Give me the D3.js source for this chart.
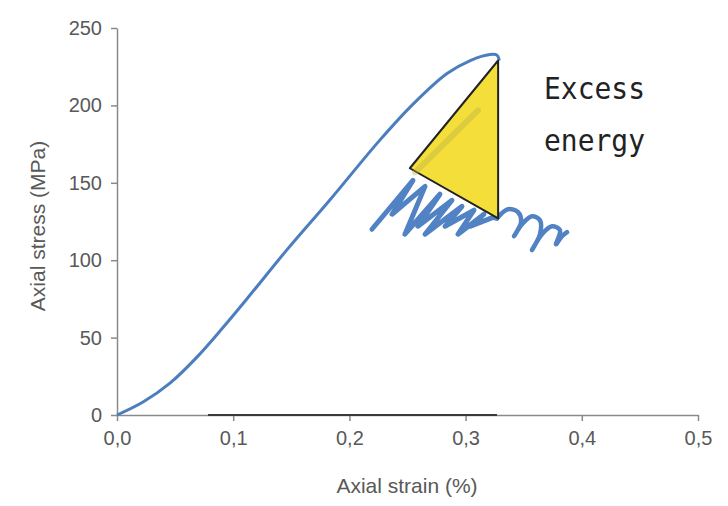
<!DOCTYPE html>
<html>
<head>
<meta charset="utf-8">
<script src="https://cdn.jsdelivr.net/npm/d3@7"></script>
<style>
  body { margin: 0; background: #fff; }
  text { font-family: "Liberation Sans", Arial, sans-serif; }
</style>
</head>
<body>
<div id="chart"></div>
<script>
// stress-strain curve (strain %, stress MPa)
var curveStrain = [0, 0.0224, 0.0456, 0.0688, 0.0912, 0.1145, 0.146, 0.183, 0.226, 0.255, 0.284, 0.304, 0.321, 0.327, 0.329];
var curveStress = [0, 8.4, 20.6, 37.4, 56.5, 77.5, 106.5, 138.7, 177.4, 201, 220.6, 229, 232.9, 232.5, 229];

// yellow "excess energy" triangle
var triStrain = [0.328, 0.252, 0.328];
var triStress = [229, 159.4, 127];

// hand drawn scribble under the triangle
var scribStrain = [0.2194, 0.2547, 0.2367, 0.2651, 0.2478, 0.2779, 0.2590, 0.2883, 0.2651, 0.2969, 0.2823, 0.3072, 0.2935, 0.3158, 0.3038, 0.3236, 0.3270];
var scribStress = [120.0, 151.6, 129.7, 147.7, 116.8, 142.6, 121.9, 138.7, 116.8, 134.8, 121.9, 132.3, 116.8, 129.7, 121.9, 127.7, 127.1];
var loopStrain = [0.3270, 0.3365, 0.3451, 0.3477, 0.3417, 0.3485, 0.3571, 0.3640, 0.3640, 0.3571, 0.3657, 0.3744, 0.3812, 0.3778, 0.3830, 0.3873];
var loopStress = [127.1, 132.9, 131.0, 124.5, 115.5, 123.2, 128.4, 125.8, 116.8, 106.5, 116.8, 121.9, 119.4, 110.3, 115.5, 118.1];
var streakStrain = [0.2565, 0.3107];
var streakStress = [156.8, 196.8];
var baseStrain = [0.0783, 0.327];

var xTicks = [0, 0.1, 0.2, 0.3, 0.4, 0.5];
var yTicks = [0, 50, 100, 150, 200, 250];

var width = 728, height = 506;
var svg = d3.select("#chart").append("svg")
    .attr("width", width)
    .attr("height", height);

var x = d3.scaleLinear().domain([0, 0.5]).range([117, 698]);
var y = d3.scaleLinear().domain([0, 250]).range([415, 28]);

function pts(xs, ys){
    return xs.map(function(v, i){ return [v, ys[i]]; });
}
var line = d3.line()
    .x(function(d){ return x(d[0]); })
    .y(function(d){ return y(d[1]); });

// axes
var xAxis = svg.append("g")
    .attr("transform", "translate(0," + y(0) + ")")
    .call(d3.axisBottom(x).tickValues(xTicks).tickSize(6).tickSizeOuter(0)
        .tickFormat(function(d){ return d3.format(".1f")(d).replace(".", ","); }));
var yAxis = svg.append("g")
    .attr("transform", "translate(" + x(0) + ",0)")
    .call(d3.axisLeft(y).tickValues(yTicks).tickSize(6).tickSizeOuter(0));

[xAxis, yAxis].forEach(function(a){
    a.select(".domain").attr("stroke", "#8a8a8a").attr("stroke-width", 1.5);
    a.selectAll(".tick line").attr("stroke", "#8a8a8a").attr("stroke-width", 1.5);
    a.selectAll(".tick text")
        .attr("fill", "#595959")
        .style("font-size", "20px")
        .style("font-family", "'Liberation Sans', Arial, sans-serif");
});
xAxis.selectAll(".tick text").attr("dy", "1.05em").attr("y", 9);
yAxis.selectAll(".tick text").attr("x", -15);

// darker part of the x axis
svg.append("path")
    .attr("d", line(pts(baseStrain, [0, 0])))
    .attr("stroke", "#3a3a3a")
    .attr("stroke-width", 2.2)
    .attr("fill", "none");

// axis titles
svg.append("text")
    .attr("x", 407).attr("y", 493)
    .attr("text-anchor", "middle")
    .attr("fill", "#595959")
    .style("font-size", "21px")
    .text("Axial strain (%)");
svg.append("text")
    .attr("transform", "translate(45,226) rotate(-90)")
    .attr("text-anchor", "middle")
    .attr("fill", "#595959")
    .style("font-size", "21px")
    .text("Axial stress (MPa)");

// scribble
svg.append("path")
    .attr("d", line(pts(scribStrain, scribStress)))
    .attr("stroke", "#5082c4")
    .attr("stroke-width", 5)
    .attr("stroke-linecap", "round")
    .attr("stroke-linejoin", "round")
    .attr("fill", "none");
svg.append("path")
    .attr("d", line.curve(d3.curveCatmullRom)(pts(loopStrain, loopStress)))
    .attr("stroke", "#5082c4")
    .attr("stroke-width", 4.5)
    .attr("stroke-linecap", "round")
    .attr("fill", "none");
line.curve(d3.curveLinear);

// main curve
svg.append("path")
    .attr("d", line.curve(d3.curveCatmullRom.alpha(0.5))(pts(curveStrain, curveStress)))
    .attr("stroke", "#4a7ebf")
    .attr("stroke-width", 3)
    .attr("fill", "none");
line.curve(d3.curveLinear);

// triangle
svg.append("path")
    .attr("d", line(pts(triStrain, triStress)) + "Z")
    .attr("fill", "#f4df3a")
    .attr("stroke", "#222")
    .attr("stroke-width", 2)
    .attr("stroke-linejoin", "round");

// faint streak showing through the yellow
svg.append("path")
    .attr("d", line(pts(streakStrain, streakStress)))
    .attr("stroke", "#b8ae45")
    .attr("stroke-opacity", 0.4)
    .attr("stroke-width", 6)
    .attr("stroke-linecap", "round")
    .attr("fill", "none");

// annotation
var ann = svg.append("text")
    .attr("fill", "#222")
    .style("font-family", "'DejaVu Sans Mono', monospace")
    .style("font-size", "30px");
ann.append("tspan").attr("x", 544).attr("y", 99)
    .attr("textLength", 101).attr("lengthAdjust", "spacingAndGlyphs").text("Excess");
ann.append("tspan").attr("x", 544).attr("y", 151)
    .attr("textLength", 101).attr("lengthAdjust", "spacingAndGlyphs").text("energy");
</script>
</body>
</html>
